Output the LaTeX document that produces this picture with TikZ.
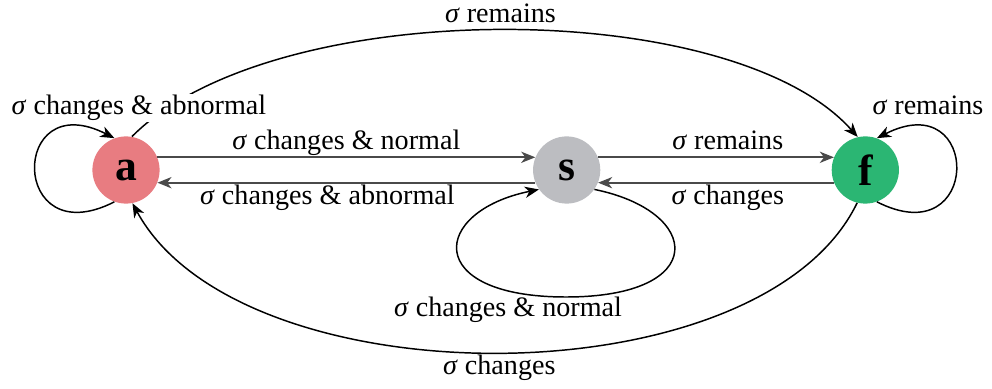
\documentclass[tikz,border=0pt]{standalone}
\usepackage{fontspec}
\setmainfont{Liberation Serif}
\usetikzlibrary{arrows.meta, positioning}

\definecolor{abncol}{HTML}{E87C81}
\definecolor{stcol}{HTML}{BCBDC1}
\definecolor{fincol}{HTML}{2BB673}
\definecolor{flowgray}{HTML}{4A4A4A}
\newcommand{\sig}{\textit{σ}}

\begin{document}
\begin{tikzpicture}[x=0.025cm, y=0.025cm, font=\fontsize{20}{24}\selectfont,
    >={Stealth[length=10pt, width=8pt, inset=3pt]}]
    \tikzstyle{statenode}=[circle, minimum size=1.68cm, inner sep=0pt, font=\fontsize{31}{31}\selectfont\bfseries]
    \tikzstyle{lbl}=[inner sep=1pt, text height=14pt, text depth=4pt]
    \tikzstyle{flow}=[draw=flowgray, line width=1.3pt, ->]
    \tikzstyle{curve}=[draw=black, line width=1.05pt, ->]

    \useasboundingbox (0,0) rectangle (992,388);

    \node[statenode, fill=abncol] (a) at (126, 218) {a};
    \node[statenode, fill=stcol, right=9.32cm of a] (s) {s};
    \node[statenode, fill=fincol, right=5.77cm of s] (f) {f};

    % straight transitions
    \draw[flow] (a.22) -- node[lbl, above] (an) {\sig{} changes \& normal} (s.158);
    \draw[flow] (s.202) -- node[lbl, below, pos=0.55] (sa) {\sig{} changes \& abnormal} (a.-22);
    \draw[flow] (s.22) -- node[lbl, above, pos=0.55] (sf) {\sig{} remains} (f.158);
    \draw[flow] (f.202) -- node[lbl, below, pos=0.45] (fs) {\sig{} changes} (s.-22);

    % long arcs
    \draw[curve] (a.80) .. controls +(141,142) and +(-126,142) .. node[lbl, above] (af) {\sig{} remains} (f.103);
    \draw[curve] (f.256) .. controls +(-96,-199) and +(108,-199) .. node[lbl, below] (fa) {\sig{} changes} (a.281);

    % self loops
    \draw[curve] (a.250) .. controls +(207:118) and +(153:118) .. (a.110);
    \draw[curve] (f.290) .. controls +(-27:118) and +(27:118) .. (f.70);
    \coordinate (sbot) at (566, 91);
    \draw[curve] (s.325) .. controls +(108,-22) and +(144,0) .. (sbot)
        .. controls +(-144,0) and +(-108,-22) .. (s.215);

    \node[lbl, fill=white, anchor=base] (aloop) at (139, 273) {\sig{} changes \& abnormal};
    \node[lbl, anchor=base] (floop) at (928, 273) {\sig{} remains};
    \node[lbl, anchor=base] (sloop) at (508, 71) {\sig{} changes \& normal};
\end{tikzpicture}
\end{document}
